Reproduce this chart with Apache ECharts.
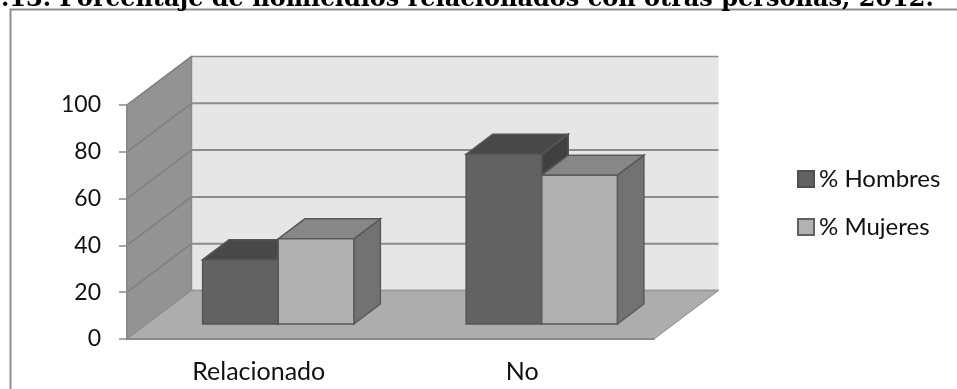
<!DOCTYPE html>
<html><head><meta charset="utf-8">
<style>html,body{margin:0;padding:0;background:#fff}#c{width:957px;height:389px}</style>
<script src="https://cdn.jsdelivr.net/npm/echarts@6/dist/echarts.min.js"></script>
</head><body><div id="c"></div>
<script>
const titleText = '.13. Porcentaje de homicidios relacionados con otras personas, 2012.';
const categories = ['Relacionado', 'No'];
const hombres = [27.5, 72.5];
const mujeres = [36.4, 63.6];
const yTicks = [0, 20, 40, 60, 80, 100];

const DEPTH_X = 64.5, DEPTH_Y = 48.5;
const FRONT_X = 19.5, FRONT_Y = 15, BACK_X = 46, BACK_Y = 35;
const BAR_FRACTION = 0.287;

const poly = (points, fill, stroke, lw) => ({
  type: 'polygon', shape: { points },
  style: { fill, stroke: stroke || null, lineWidth: lw || 0 }
});
const line = (x1, y1, x2, y2, stroke, lw) => ({
  type: 'line', shape: { x1, y1, x2, y2 }, style: { stroke, lineWidth: lw }
});

function renderWalls(params, api) {
  const cs = params.coordSys;
  const l = cs.x, r = cs.x + cs.width, b = cs.y + cs.height, t = cs.y;
  const dx = DEPTH_X, dy = DEPTH_Y;
  const kids = [
    poly([[l + dx, t - dy], [r + dx, t - dy], [r + dx, b - dy], [l + dx, b - dy]], '#e6e6e6'),
    poly([[l, t], [l + dx, t - dy], [l + dx, b - dy], [l, b]], '#939393', '#8a8a8a', 1.5),
    poly([[l, b], [l + dx, b - dy], [r + dx, b - dy], [r, b]], '#adadad', '#8c8c8c', 1)
  ];
  yTicks.forEach(v => {
    const y = api.coord([0, v])[1];
    if (v > 0) kids.push(line(l, y, l + dx, y - dy, '#808080', 1.5));
    kids.push(line(l + dx, y - dy, r + dx, y - dy, v === 0 ? '#9a9a9a' : '#8c8c8c', v === 100 ? 1.5 : 2));
  });
  return { type: 'group', children: kids };
}

function barRenderer(slot, front, top, side, stroke) {
  return function (params, api) {
    const c = api.coord([api.value(0), api.value(1)]);
    const base = api.coord([api.value(0), 0]);
    const w = api.size([1, 0])[0] * BAR_FRACTION;
    const x0 = c[0] + slot * w + FRONT_X, x1 = x0 + w;
    const yt = c[1] - FRONT_Y, yb = base[1] - FRONT_Y;
    const ddx = BACK_X - FRONT_X, ddy = BACK_Y - FRONT_Y;
    return {
      type: 'group', children: [
        poly([[x1, yt], [x1 + ddx, yt - ddy], [x1 + ddx, yb - ddy], [x1, yb]], side, stroke, 1.5),
        poly([[x0, yt], [x0 + ddx, yt - ddy], [x1 + ddx, yt - ddy], [x1, yt]], top, stroke, 1.5),
        poly([[x0, yt], [x1, yt], [x1, yb], [x0, yb]], front, stroke, 1.5)
      ]
    };
  };
}

const seriesData = vals => categories.map((c, i) => [c, vals[i]]);
const chart = echarts.init(document.getElementById('c'), null, { renderer: 'canvas' });
chart.setOption({
  animation: false,
  backgroundColor: '#fff',
  title: {
    text: titleText, left: -4, top: -17,
    textStyle: { fontFamily: 'DejaVu Serif', fontWeight: 'bold', fontSize: 24, color: '#000' }
  },
  graphic: [{
    type: 'rect', silent: true, z: 0,
    shape: { x: 10.5, y: 9.5, width: 960, height: 400 },
    style: { fill: 'none', stroke: '#8f8f8f', lineWidth: 2 }
  }],
  grid: { left: 127, right: 303, top: 105, height: 234 },
  legend: {
    orient: 'vertical', left: 792, top: 162,
    itemWidth: 16, itemHeight: 16, itemGap: 24, icon: 'rect',
    data: ['% Hombres', '% Mujeres'],
    textStyle: { fontFamily: 'Lato', fontSize: 24, color: '#111', padding: [0, 0, 0, 0] }
  },
  xAxis: {
    type: 'category', data: categories, z: 4,
    axisLine: { lineStyle: { color: '#8a8a8a', width: 2 } },
    axisTick: { length: 7, alignWithLabel: false, lineStyle: { color: '#8a8a8a', width: 1.5 } },
    axisLabel: { fontFamily: 'Lato', fontSize: 25, color: '#111', margin: 20 }
  },
  yAxis: {
    type: 'value', min: 0, max: 100, interval: 20, z: 4,
    axisLine: { show: true, lineStyle: { color: '#8a8a8a', width: 2 } },
    axisTick: { show: true, length: 8, lineStyle: { color: '#8a8a8a', width: 1.5 } },
    splitLine: { show: false },
    axisLabel: { fontFamily: 'Lato', fontSize: 23, color: '#111', margin: 26 }
  },
  series: [
    { type: 'custom', name: 'walls', z: 1, silent: true, clip: false, data: [[0, 0]], encode: { x: 0, y: 1 }, renderItem: renderWalls },
    { type: 'custom', name: '% Hombres', z: 2, clip: false, data: seriesData(hombres), encode: { x: 0, y: 1 },
      itemStyle: { color: '#626262', borderColor: '#505050', borderWidth: 1.5 },
      renderItem: barRenderer(-1, '#626262', '#484848', '#404040', '#555555') },
    { type: 'custom', name: '% Mujeres', z: 3, clip: false, data: seriesData(mujeres), encode: { x: 0, y: 1 },
      itemStyle: { color: '#b2b2b2', borderColor: '#606060', borderWidth: 1.5 },
      renderItem: barRenderer(0, '#b1b1b1', '#878787', '#727272', '#5a5a5a') }
  ]
});
</script></body></html>
